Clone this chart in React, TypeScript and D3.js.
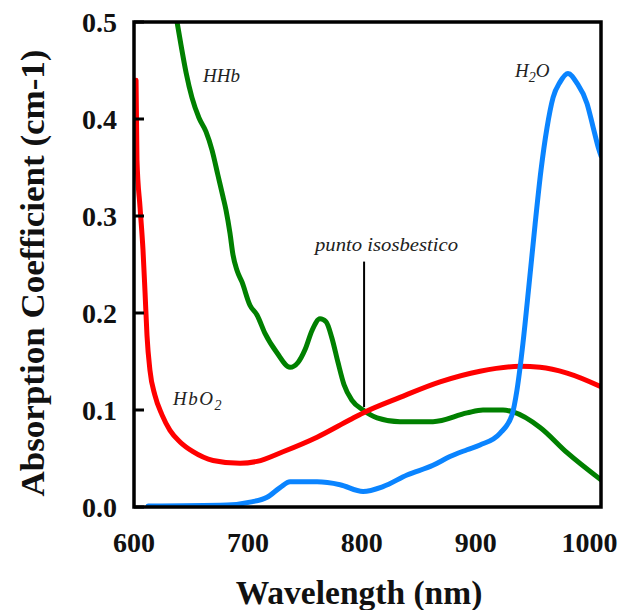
import React from "react";
import * as d3 from "d3";

// Absorption spectra of deoxy-haemoglobin, oxy-haemoglobin and water (NIR window)
const hhbNm = [637.8, 641.3, 645.7, 650.9, 657.1, 663.2, 668.5, 673.7, 678.1, 680.8, 684.3, 686.9, 690.4, 694.8, 701.8, 708.0, 715.0, 725.5, 737.0, 744.0, 750.1, 756.3, 763.3, 768.6, 773.8, 779.1, 784.4, 791.4, 801.1, 813.4, 833.5, 862.5, 892.4, 906.4, 924.0, 932.8, 956.5, 980.2, 1010];
const hhbVal = [0.5, 0.476, 0.448, 0.422, 0.401, 0.387, 0.368, 0.342, 0.32, 0.306, 0.282, 0.26, 0.244, 0.232, 0.208, 0.198, 0.179, 0.159, 0.144, 0.149, 0.162, 0.182, 0.194, 0.191, 0.174, 0.149, 0.126, 0.11, 0.1, 0.092, 0.088, 0.088, 0.097, 0.1, 0.1, 0.098, 0.082, 0.056, 0.028];

const hbo2Nm = [601.8, 602.6, 605.3, 607.9, 609.7, 611.4, 614.0, 618.4, 624.6, 631.6, 640.4, 651.8, 669.4, 693.1, 708.0, 730.8, 760.7, 789.6, 801.1, 833.5, 868.7, 903.8, 938.9, 956.5, 980.2, 1010];
const hbo2Val = [0.44, 0.358, 0.309, 0.265, 0.221, 0.177, 0.141, 0.115, 0.095, 0.079, 0.067, 0.057, 0.048, 0.045, 0.047, 0.057, 0.072, 0.09, 0.097, 0.113, 0.129, 0.14, 0.145, 0.144, 0.138, 0.124];

const waterNm = [612.3, 681.7, 701.8, 716.8, 728.2, 737.0, 760.7, 780.9, 801.1, 818.6, 839.7, 862.5, 877.4, 892.4, 903.8, 921.3, 931.9, 936.3, 941.5, 946.8, 952.1, 957.3, 962.6, 967.9, 974.0, 981.0, 988.9, 997.7, 1003.0, 1008.3, 1010];
const waterVal = [0.001, 0.002, 0.005, 0.01, 0.02, 0.026, 0.026, 0.023, 0.016, 0.021, 0.033, 0.043, 0.052, 0.059, 0.064, 0.076, 0.095, 0.121, 0.169, 0.229, 0.291, 0.347, 0.391, 0.422, 0.438, 0.447, 0.437, 0.416, 0.392, 0.368, 0.362];

const xTicks = [600, 700, 800, 900, 1000];
const yTicks = [0.0, 0.1, 0.2, 0.3, 0.4, 0.5];

const isosbesticNm = 802;
const isosbesticRange = [0.103, 0.253];

const plot = { left: 134, right: 601, top: 22, bottom: 507 };

export default function App() {
  const x = d3.scaleLinear().domain([600, 1010]).range([plot.left, plot.right]);
  const y = d3.scaleLinear().domain([0, 0.5]).range([plot.bottom, plot.top]);

  const line = d3
    .line<[number, number]>()
    .x((d) => x(d[0]))
    .y((d) => y(d[1]))
    .curve(d3.curveMonotoneX);

  const zip = (a: number[], b: number[]) => a.map((v, i) => [v, b[i]] as [number, number]);

  const series = [
    { name: "HHb", color: "#008000", d: zip(hhbNm, hhbVal) },
    { name: "HbO2", color: "#ff0000", d: zip(hbo2Nm, hbo2Val) },
    { name: "H2O", color: "#0a84ff", d: zip(waterNm, waterVal) },
  ];

  const serif = "'Liberation Serif', 'Times New Roman', serif";
  const fmt = d3.format(".1f");

  return (
    <svg
      width={630}
      height={610}
      style={{ position: "absolute", left: 0, top: 0, background: "#fff" }}
    >
      <defs>
        <clipPath id="plotClip">
          <rect x={plot.left} y={plot.top} width={plot.right - plot.left} height={plot.bottom - plot.top} />
        </clipPath>
      </defs>

      <g clipPath="url(#plotClip)">
        {series.map((s) => (
          <path
            key={s.name}
            d={line(s.d) ?? ""}
            fill="none"
            stroke={s.color}
            strokeWidth={5}
            strokeLinejoin="round"
            strokeLinecap="round"
          />
        ))}
      </g>

      {/* isosbestic marker */}
      <line
        x1={x(isosbesticNm)}
        x2={x(isosbesticNm)}
        y1={y(isosbesticRange[1])}
        y2={y(isosbesticRange[0])}
        stroke="#000"
        strokeWidth={2}
      />

      {/* frame */}
      <rect
        x={plot.left}
        y={plot.top}
        width={plot.right - plot.left}
        height={plot.bottom - plot.top}
        fill="none"
        stroke="#000"
        strokeWidth={3.5}
      />

      {/* y axis ticks and labels */}
      {yTicks.map((t) => (
        <g key={t}>
          <line x1={plot.left} x2={plot.left + 10} y1={y(t)} y2={y(t)} stroke="#000" strokeWidth={3} />
          <text
            x={117}
            y={y(t)}
            dy="0.35em"
            textAnchor="end"
            fontFamily={serif}
            fontWeight="bold"
            fontSize={28}
            fill="#111"
          >
            {fmt(t)}
          </text>
        </g>
      ))}

      {/* x axis labels */}
      {xTicks.map((t) => (
        <text
          key={t}
          x={x(t)}
          y={552}
          textAnchor="middle"
          fontFamily={serif}
          fontWeight="bold"
          fontSize={28}
          fill="#111"
        >
          {t}
        </text>
      ))}

      <text
        x={359}
        y={604}
        textAnchor="middle"
        fontFamily={serif}
        fontWeight="bold"
        fontSize={33.5}
        fill="#111"
      >
        Wavelength (nm)
      </text>

      <text
        transform="translate(44,273) rotate(-90)"
        textAnchor="middle"
        fontFamily={serif}
        fontWeight="bold"
        fontSize={34}
        textLength={447}
        lengthAdjust="spacingAndGlyphs"
        fill="#111"
      >
        Absorption Coefficient (cm-1)
      </text>

      {/* curve annotations */}
      <g fontFamily={serif} fontStyle="italic" fill="#222">
        <text x={203} y={82} fontSize={19} textLength={37} lengthAdjust="spacingAndGlyphs">HHb</text>
        <text x={315} y={251} fontSize={18} textLength={143} lengthAdjust="spacingAndGlyphs">
          punto isosbestico
        </text>
        <text x={515} y={77} fontSize={19}>
          H<tspan dy={5} fontSize={14}>2</tspan><tspan dy={-5}>O</tspan>
        </text>
        <text x={173} y={405} fontSize={19} letterSpacing={1.5}>
          HbO<tspan dy={5} fontSize={14}>2</tspan>
        </text>
      </g>
    </svg>
  );
}
